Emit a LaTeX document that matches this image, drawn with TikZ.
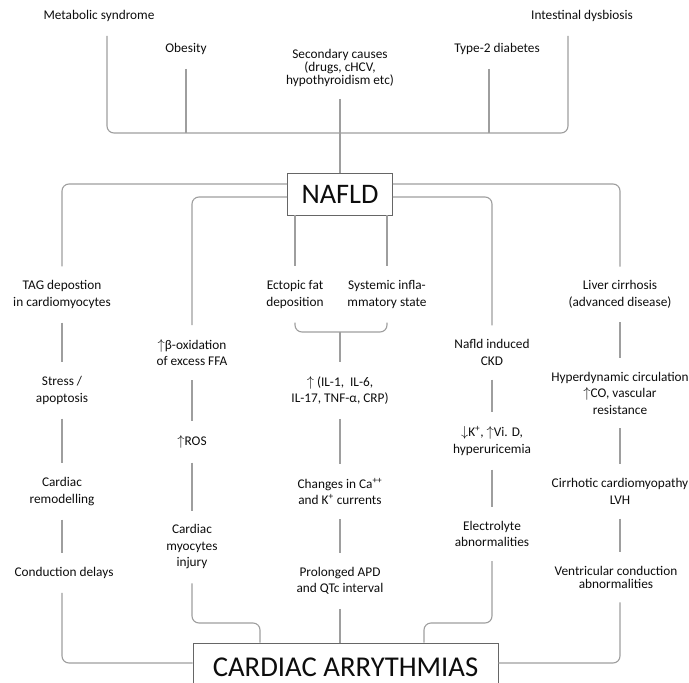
\documentclass[tikz,border=0pt]{standalone}
\usepackage{fontspec}
\setmainfont{Carlito}
\usepackage{xcolor}
\definecolor{linkgray}{gray}{0.62}
\definecolor{boxgray}{gray}{0.40}
\definecolor{inkgray}{gray}{0.05}
\usepackage{tikz}
\usetikzlibrary{positioning,calc}
\tikzset{
  lbl/.style={align=center,inner xsep=0pt,inner ysep=14pt,text=inkgray,
              font=\fontsize{13.3}{16.5}\selectfont},
  tightlbl/.style={lbl,font=\fontsize{13.3}{11.5}\selectfont},
  hubbox/.style={draw=boxgray,line width=0.9pt,text=inkgray,inner sep=0pt},
  link/.style={draw=linkgray,line width=1.1pt},
  elbow/.style={link,rounded corners=7pt},
}

\begin{document}
\begin{tikzpicture}[x=1pt,y=-1pt]
        \useasboundingbox (0,0) rectangle (689,683);
        \clip (0,0) rectangle (689,683);
        % risk factors
        \node[lbl] (metab) at (99,16) {Metabolic syndrome};
        \node[lbl] (dysb) at (582,16) {Intestinal dysbiosis};
        \node[lbl] (obes) at (186,49) {Obesity};
        \node[lbl] (diab) at (497,49) {Type-2 diabetes};
        \node[tightlbl,inner ysep=12pt] (second) at (340,68)
          {Secondary causes\\(drugs, cHCV,\\hypothyroidism etc)};
        \coordinate (bus) at (340,133);
        \node[hubbox,minimum width=105pt,minimum height=42pt,
              font=\fontsize{28.3}{30}\selectfont] (nafld) at (340,194) {NAFLD};
        % first row
        \node[lbl] (tag) at (62,294.5) {TAG depostion\\in cardiomyocytes};
        \node[lbl] (ectopic) at (295,294.5) {Ectopic fat\\deposition};
        \node[lbl] (systemic) at (387,294.5) {Systemic infla-\\mmatory state};
        \node[lbl] (liver) at (620,294.5) {Liver cirrhosis\\(advanced disease)};
        \coordinate (join) at (340,332);
        % second row
        \node[lbl] (beta) at (192,352.5) {$\uparrow$β-oxidation\\of excess FFA};
        \node[lbl] (ckd) at (492,352.5) {Nafld induced\\CKD};
        \node[lbl] (stress) at (62,390.5) {Stress /\\apoptosis};
        \node[lbl] (il) at (340,390.5) {$\uparrow$ (IL-1,\ \ IL-6,\\IL-17, TNF-α, CRP)};
        \node[lbl] (hyper) at (620,393)
          {Hyperdynamic circulation\\$\uparrow$CO, vascular\\resistance};
        \node[lbl] (ros) at (192,442) {$\uparrow$ROS};
        \node[lbl] (kvid) at (492,441)
          {$\downarrow$K\textsuperscript{+}, $\uparrow$Vi. D,\\hyperuricemia};
        % third row
        \node[lbl] (remod) at (62,491.5) {Cardiac\\remodelling};
        \node[lbl] (changes) at (340,491.5)
          {Changes in Ca\textsuperscript{++}\\and K\textsuperscript{+} currents};
        \node[lbl] (cirrh) at (620,491.5) {Cirrhotic cardiomyopathy\\LVH};
        \node[lbl] (injury) at (192,547) {Cardiac\\myocytes\\injury};
        \node[lbl] (electro) at (492,534) {Electrolyte\\abnormalities};
        \node[lbl] (delays) at (64,573) {Conduction delays};
        \node[lbl] (apd) at (340,581) {Prolonged APD\\and QTc interval};
        \node[tightlbl,font=\fontsize{13.3}{13}\selectfont] (ventr) at (616,577)
          {Ventricular conduction\\abnormalities};
        \node[hubbox,minimum width=305pt,minimum height=48pt,
              font=\fontsize{28.7}{30}\selectfont] (cardiac) at (345.5,667)
          {CARDIAC ARRYTHMIAS};
        \coordinate (injturn) at (260,623);
        \coordinate (eleturn) at (424,623);

        % connectors
        \draw[elbow] ([xshift=8]metab.south) |- (bus) -| ([xshift=-14]dysb.south);
        \draw[link] (obes.south) -- (obes.south |- bus);
        \draw[link] ([xshift=-8]diab.south) -- ([xshift=-8]diab.south |- bus);
        \draw[link] (second.south) -- (nafld.north);
        \draw[elbow] ([yshift=10]nafld.west) -| (tag.north);
        \draw[elbow] ([yshift=10]nafld.east) -| (liver.north);
        \draw[elbow] ([yshift=-3]nafld.west) -| (beta.north);
        \draw[elbow] ([yshift=-3]nafld.east) -| (ckd.north);
        \draw[link] (ectopic.north |- nafld.south) -- (ectopic.north);
        \draw[link] (systemic.north |- nafld.south) -- (systemic.north);
        \draw[elbow] (ectopic.south) |- (join) -| (systemic.south);
        \draw[link] (join) -- (il.north);
        \foreach \a/\b in {tag/stress,stress/remod,remod/delays,beta/ros,ros/injury,
                           il/changes,changes/apd,ckd/kvid,kvid/electro,
                           liver/hyper,hyper/cirrh,cirrh/ventr}
          \draw[link] (\a.south) -- (\a.south |- \b.north);
        \draw[elbow] ([xshift=-2]delays.south) |- ([yshift=4]cardiac.west);
        \draw[elbow] (injury.south) |- (injturn) -- (injturn |- cardiac.north);
        \draw[link] (apd.south) -- (apd.south |- cardiac.north);
        \draw[elbow] (electro.south) |- (eleturn) -- (eleturn |- cardiac.north);
        \draw[elbow] ([xshift=4]ventr.south) |- ([yshift=4]cardiac.east);
      \end{tikzpicture}
\end{document}
